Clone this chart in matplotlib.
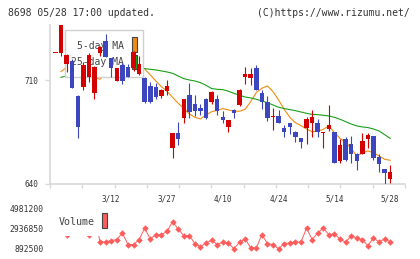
import matplotlib
matplotlib.use("Agg")
import matplotlib.pyplot as plt
from matplotlib.patches import Rectangle
import numpy as np

# ---- data (index 0..60, one per trading day) ----
date_labels = ["3/12", "3/27", "4/10", "4/24", "5/14", "5/28"]
date_index = [10, 20, 30, 40, 50, 60]

opens = [728.2, 728.2, 720.8, 723.1, 699.4, 705.7, 712.5, 701.2, 728.2, 736.6,
         725.3, 709.5, 720.4, 718.8, 718.1, 714.1, 711.8, 706.2, 705.3, 699.6,
         702.8, 664.5, 674.2, 684.8, 700.1, 693.8, 691.1, 697.4, 695.6, 697.4,
         685.5, 678.7, 690.0, 693.3, 712.0, 711.4, 718.1, 701.2, 695.6, 685.3,
         685.9, 678.0, 681.0, 675.3, 670.8, 677.6, 681.0, 681.0, 674.7, 677.1,
         675.3, 655.5, 670.4, 667.0, 660.3, 660.3, 670.4, 672.4, 658.0, 649.9,
         643.4]
highs = [728.2, 752.0, 727.5, 724.2, 700.1, 722.6, 728.2, 719.7, 733.2, 741.3,
         725.3, 718.1, 721.5, 720.8, 729.5, 726.4, 712.5, 709.1, 708.4, 704.1,
         710.2, 674.2, 682.1, 697.6, 708.0, 700.1, 693.8, 698.3, 702.8, 700.1,
         689.3, 683.2, 690.4, 704.1, 718.8, 718.6, 720.4, 703.5, 699.4, 691.1,
         690.0, 679.8, 681.0, 675.8, 671.3, 685.5, 690.0, 683.9, 675.1, 693.3,
         675.3, 670.4, 672.0, 672.4, 660.7, 674.2, 674.2, 672.4, 660.3, 649.9,
         652.8]
lows = [728.2, 726.4, 715.9, 705.0, 670.8, 703.5, 709.1, 697.4, 726.4, 726.0,
        712.5, 709.5, 707.3, 712.5, 716.5, 713.6, 694.9, 694.5, 697.4, 697.8,
        700.1, 657.8, 666.3, 681.4, 684.8, 685.9, 686.6, 683.7, 693.8, 686.6,
        681.4, 675.3, 684.8, 692.9, 707.3, 706.8, 703.5, 690.6, 682.5, 676.4,
        681.0, 671.8, 673.8, 668.6, 664.5, 666.8, 672.0, 672.0, 664.5, 675.8,
        654.4, 654.4, 655.5, 654.4, 649.5, 660.3, 664.5, 656.2, 648.3, 639.8,
        640.5]
closes = [728.2, 750.0, 727.1, 705.0, 678.7, 720.4, 727.1, 718.8, 732.3, 726.0,
          718.6, 718.1, 709.5, 712.5, 728.9, 720.8, 695.6, 695.6, 699.0, 703.5,
          706.2, 674.2, 670.2, 697.2, 688.8, 689.3, 689.3, 684.8, 702.3, 689.5,
          683.2, 683.2, 687.7, 703.5, 714.3, 714.3, 703.5, 695.6, 684.8, 685.7,
          681.0, 675.3, 678.7, 672.0, 668.1, 683.9, 685.0, 674.9, 675.1, 679.8,
          654.4, 666.3, 656.2, 660.3, 655.8, 669.0, 673.1, 657.8, 653.5, 647.7,
          647.9]

ma5 = [np.nan, 715.9, 718.6, 719.2, 717.0, 714.7, 713.6, 712.0, 710.7, 714.7,
       715.2, 715.9, 714.7, 713.6, 715.2, 717.0, 717.7, 713.6, 709.5, 705.7,
       702.6, 698.5, 694.5, 690.9, 687.3, 685.0, 683.9, 686.6, 688.8, 689.7,
       690.9, 690.0, 689.1, 689.1, 690.4, 695.6, 701.7, 704.6, 706.2, 702.3,
       696.7, 690.4, 685.0, 681.4, 679.4, 677.1, 675.3, 675.6, 676.9, 679.2,
       674.7, 670.8, 668.1, 664.1, 658.9, 660.9, 662.3, 661.2, 658.9, 656.7,
       656.0]
ma25 = [np.nan, 712.0, 712.9, 713.4, 713.6, 714.1, 714.7, 715.2, 715.9, 716.3,
        716.8, 717.0, 717.2, 717.7, 717.9, 718.1, 717.9, 717.4, 717.0, 716.3,
        715.6, 714.7, 712.9, 711.1, 710.2, 709.5, 708.4, 706.6, 704.4, 703.9,
        703.7, 702.6, 701.2, 699.9, 698.7, 698.1, 697.2, 696.0, 694.9, 693.3,
        691.8, 690.9, 690.2, 689.5, 688.6, 687.7, 687.0, 686.8, 686.4, 685.9,
        685.0, 683.7, 682.1, 680.5, 679.2, 678.5, 678.1, 677.1, 675.8, 673.3,
        670.8]

volume = [3000000, 3300000, 2340000, 3000000, 3800000, 2900000, 2340000, 4470000,
          1602000, 1602000, 1737000, 1839000, 2515000, 1332000, 1332000, 1839000,
          3021000, 1906000, 2346000, 2346000, 2683000, 3697000, 2920000, 2244000,
          2244000, 1433000, 1095000, 1501000, 1771000, 1332000, 1568000, 1501000,
          892500, 1568000, 1906000, 994000, 994000, 2346000, 1433000, 1332000,
          892500, 1433000, 1501000, 1602000, 1568000, 3021000, 1839000, 2515000,
          3021000, 2346000, 2413000, 1906000, 1568000, 2244000, 1988000, 1839000,
          1230000, 1988000, 1602000, 1906000, 1602000]

vol_ticks = [892500, 2936850, 4981200]

RED = "#d40000"
BLUE = "#3c46be"
ORANGE = "#f28c10"
GREEN = "#19a019"
VOLC = "#ff5c5c"
GRID = "#d8d8d8"
TXT = "#333333"
MONO = "DejaVu Sans Mono"

W, H = 420, 259


def fx(px):
    return px / W


def fy(py):
    return 1 - py / H


fig = plt.figure(figsize=(W / 100, H / 100), dpi=100)

# ---- price panel ----
ax = fig.add_axes([fx(50), fy(184), fx(355), 159 / H])
xlim = (-0.97, 62.65)
ax.set_xlim(*xlim)
ax.set_ylim(640, 747.3)

idx = np.arange(len(closes))
ax.plot(idx, ma5, color=ORANGE, lw=0.8, zorder=2)
ax.plot(idx, ma25, color=GREEN, lw=0.8, zorder=2)

# legend box sits between the MA lines and the candles
ax.add_patch(Rectangle(((65 - 50) / 355, (184 - 76.7) / 159),
                       (143.3 - 65) / 355, (76.7 - 30) / 159,
                       transform=ax.transAxes, fc="white", ec="#d0d0d0",
                       lw=1.0, zorder=3))

for i in idx:
    o, c = opens[i], closes[i]
    col = RED if c >= o else BLUE
    ax.vlines(i, lows[i], highs[i], color=col, lw=0.8, zorder=4)
    h = max(abs(c - o), 0.7)
    ax.bar(i, h, bottom=min(o, c), width=0.8, color=col, lw=0, zorder=4)

ax.text((124 - 50) / 355, (184 - 45.7) / 159, "5-day MA", transform=ax.transAxes,
        ha="right", va="center", fontsize=7, family=MONO, color="#444444", zorder=3.5)
ax.text((124 - 50) / 355, (184 - 62.3) / 159, "25-day MA", transform=ax.transAxes,
        ha="right", va="center", fontsize=7, family=MONO, color="#444444", zorder=3.5)
for y0, col in [(51.7, ORANGE), (69.1, GREEN)]:
    ax.add_patch(Rectangle(((131.7 - 50) / 355, (184 - y0) / 159), 5.3 / 355, 14.4 / 159,
                           transform=ax.transAxes, fc=col, ec="#444444", lw=0.8,
                           zorder=3.6))

for s in ["top", "right"]:
    ax.spines[s].set_visible(False)
for s in ["left", "bottom"]:
    ax.spines[s].set_color(GRID)
    ax.spines[s].set_linewidth(1.2)

ax.set_xticks(np.linspace(xlim[0], xlim[1], 12))
ax.set_xticklabels([])
ax.tick_params(axis="x", direction="out", length=3, width=1.0, color=GRID)
ax.set_yticks([640, 710])
ax.set_yticklabels(["640", "710"], fontsize=5.5, family=MONO, color=TXT)
ax.tick_params(axis="y", direction="out", length=3.6, width=1.0, color=GRID, pad=5)

for j, lab in zip(date_index, date_labels):
    ax.text(j, (184 - 199.3) / 159, lab, transform=ax.get_xaxis_transform(),
            ha="center", va="center", fontsize=5.5, family=MONO, color=TXT)

# ---- volume panel ----
ax2 = fig.add_axes([fx(50), fy(248.8), fx(355), 39.8 / H])
ax2.set_xlim(*xlim)
ax2.set_ylim(vol_ticks[0], vol_ticks[-1])
ax2.plot(idx, volume, color=VOLC, lw=0.7, marker="D", ms=3.3, mew=0, clip_on=False)
for s in ax2.spines.values():
    s.set_visible(False)
ax2.set_xticks([])
ax2.set_yticks(vol_ticks)
ax2.set_yticklabels([str(v) for v in vol_ticks], fontsize=5.8, family=MONO, color=TXT)
ax2.tick_params(axis="y", length=0, pad=4.3)

fig.patches.append(Rectangle((fx(51), fy(236.3)), fx(58), 32 / H, transform=fig.transFigure,
                             fc="white", ec="none", zorder=5))
fig.patches.append(Rectangle((fx(101.7), fy(228.3)), fx(5.6), 15 / H, transform=fig.transFigure,
                             fc=VOLC, ec="#444444", lw=0.8, zorder=6))
fig.text(fx(59), fy(221.7), "Volume", ha="left", va="center", fontsize=7.2,
         family=MONO, color="#444444", zorder=6)

# ---- header ----
fig.text(fx(8), fy(12.7), "8698 05/28 17:00 updated.", ha="left", va="center",
         fontsize=7, family=MONO, color=TXT)
fig.text(fx(410), fy(12.7), "(C)https://www.rizumu.net/", ha="right", va="center",
         fontsize=7, family=MONO, color=TXT)

fig.savefig("out.png", dpi=100)
